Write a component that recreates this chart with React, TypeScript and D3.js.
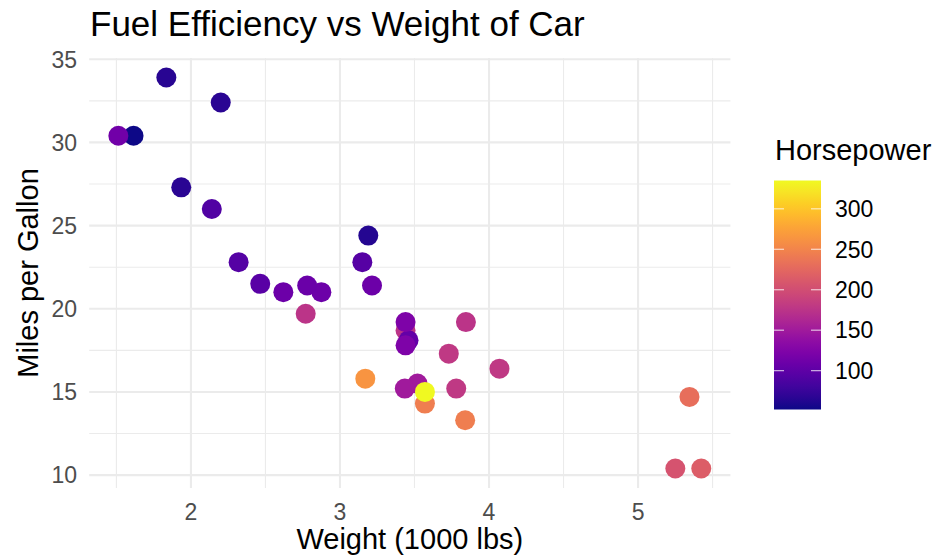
import React from "react";
import * as d3 from "d3";

const wt = [2.62, 2.875, 2.32, 3.215, 3.44, 3.46, 3.57, 3.19, 3.15, 3.44, 3.44, 4.07, 3.73, 3.78, 5.25, 5.424, 5.345, 2.2, 1.615, 1.835, 2.465, 3.52, 3.435, 3.84, 3.845, 1.935, 2.14, 1.513, 3.17, 2.77, 3.57, 2.78];
const mpg = [21.0, 21.0, 22.8, 21.4, 18.7, 18.1, 14.3, 24.4, 22.8, 19.2, 17.8, 16.4, 17.3, 15.2, 10.4, 10.4, 14.7, 32.4, 30.4, 33.9, 21.5, 15.5, 15.2, 13.3, 19.2, 27.3, 26.0, 30.4, 15.8, 19.7, 15.0, 21.4];
const hp = [110, 110, 93, 110, 175, 105, 245, 62, 95, 123, 123, 180, 180, 180, 205, 215, 230, 66, 52, 65, 97, 150, 150, 245, 175, 66, 91, 113, 264, 175, 335, 109];

const xTicks = [2, 3, 4, 5];
const xMinor = [1.5, 2.5, 3.5, 4.5, 5.5];
const yTicks = [10, 15, 20, 25, 30, 35];
const yMinor = [12.5, 17.5, 22.5, 27.5, 32.5];
const hpTicks = [100, 150, 200, 250, 300];

const title = "Fuel Efficiency vs Weight of Car";
const xTitle = "Weight (1000 lbs)";
const yTitle = "Miles per Gallon";
const legendTitle = "Horsepower";

const FONT = "'Liberation Sans', Arial, Helvetica, sans-serif";

export default function App() {
  const W = 937, H = 559;
  const panel = { left: 89.2, right: 730.4, top: 58, bottom: 488 };
  const xExt = d3.extent(wt) as [number, number];
  const yExt = d3.extent(mpg) as [number, number];
  const xPad = (xExt[1] - xExt[0]) * 0.05;
  const yPad = (yExt[1] - yExt[0]) * 0.05;
  const x = d3.scaleLinear().domain([xExt[0] - xPad, xExt[1] + xPad]).range([panel.left, panel.right]);
  const y = d3.scaleLinear().domain([yExt[0] - yPad, yExt[1] + yPad]).range([panel.bottom, panel.top]);
  const hpExt = d3.extent(hp) as [number, number];
  const color = d3.scaleSequential(d3.interpolatePlasma).domain(hpExt);

  const bar = { x: 774, w: 47, top: 180.5, bottom: 409.5 };
  const cy = d3.scaleLinear().domain(hpExt).range([bar.bottom, bar.top]);
  const stops = d3.range(0, 1.0001, 0.05);

  const grid = "#ebebeb";
  return (
    <svg width={W} height={H} style={{ display: "block", position: "absolute", left: 0, top: 0 }} fontFamily={FONT}>
      <rect width={W} height={H} fill="#fff" />
      {xMinor.map((v) => (
        <line key={"xm" + v} x1={x(v)} x2={x(v)} y1={panel.top} y2={panel.bottom} stroke={grid} strokeWidth={1.1} />
      ))}
      {yMinor.map((v) => (
        <line key={"ym" + v} y1={y(v)} y2={y(v)} x1={panel.left} x2={panel.right} stroke={grid} strokeWidth={1.1} />
      ))}
      {xTicks.map((v) => (
        <line key={"xM" + v} x1={x(v)} x2={x(v)} y1={panel.top} y2={panel.bottom} stroke={grid} strokeWidth={2.1} />
      ))}
      {yTicks.map((v) => (
        <line key={"yM" + v} y1={y(v)} y2={y(v)} x1={panel.left} x2={panel.right} stroke={grid} strokeWidth={2.1} />
      ))}
      {wt.map((w, i) => (
        <circle key={"p" + i} cx={x(w)} cy={y(mpg[i])} r={10} fill={color(hp[i])} />
      ))}
      {xTicks.map((v) => (
        <text key={"xt" + v} x={x(v)} y={520} textAnchor="middle" fontSize={23} fill="#4d4d4d">{v}</text>
      ))}
      {yTicks.map((v) => (
        <text key={"yt" + v} x={77} y={y(v)} dy="0.36em" textAnchor="end" fontSize={23} fill="#4d4d4d">{v}</text>
      ))}
      <text x={(panel.left + panel.right) / 2} y={549} textAnchor="middle" fontSize={29} fill="#000">{xTitle}</text>
      <text transform={`translate(37.5,${(panel.top + panel.bottom) / 2}) rotate(-90)`} textAnchor="middle" fontSize={29} fill="#000">{yTitle}</text>
      <text x={90} y={36} fontSize={35} fill="#000">{title}</text>

      <text x={775} y={160} fontSize={29} fill="#000">{legendTitle}</text>
      <defs>
        <linearGradient id="hpgrad" x1="0" y1="1" x2="0" y2="0">
          {stops.map((s) => (
            <stop key={s} offset={s} stopColor={d3.interpolatePlasma(s)} />
          ))}
        </linearGradient>
      </defs>
      <rect x={bar.x} y={bar.top} width={bar.w} height={bar.bottom - bar.top} fill="url(#hpgrad)" />
      {hpTicks.map((v) => (
        <g key={"ct" + v}>
          <line x1={bar.x} x2={bar.x + 10} y1={cy(v)} y2={cy(v)} stroke="#fff" strokeOpacity={0.7} strokeWidth={1.2} />
          <line x1={bar.x + bar.w - 10} x2={bar.x + bar.w} y1={cy(v)} y2={cy(v)} stroke="#fff" strokeOpacity={0.7} strokeWidth={1.2} />
          <text x={835} y={cy(v)} dy="0.36em" fontSize={23} fill="#000">{v}</text>
        </g>
      ))}
    </svg>
  );
}
